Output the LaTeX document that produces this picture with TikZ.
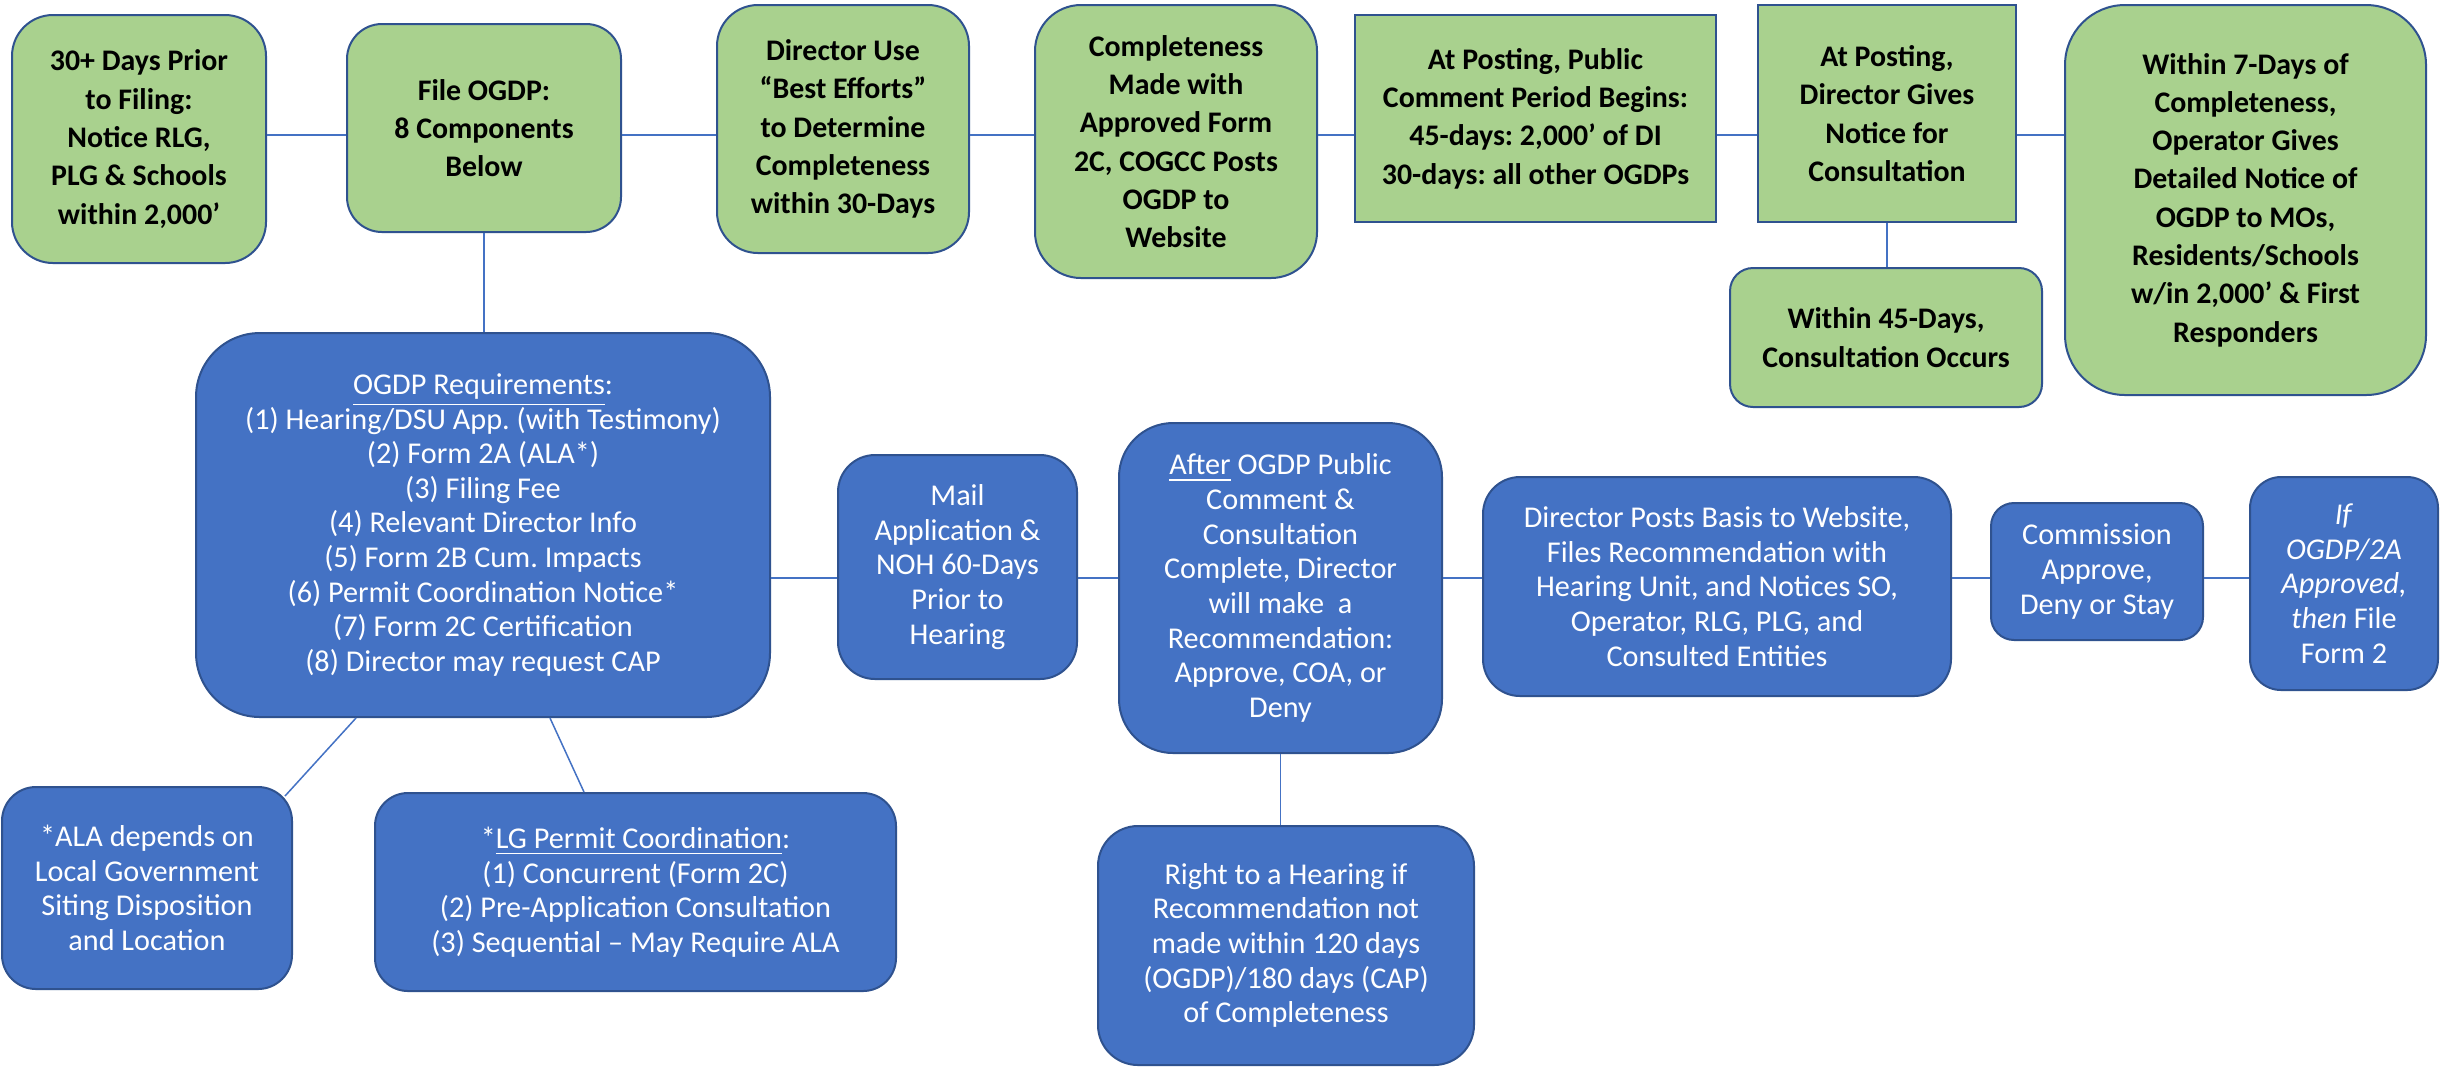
\documentclass[tikz,border=0pt]{standalone}
\usepackage{fontspec}
\setmainfont{Carlito}
\definecolor{gfill}{HTML}{A9D18E}
\definecolor{bfill}{HTML}{4472C4}
\definecolor{bdr}{HTML}{2F528F}
\definecolor{lnk}{HTML}{4472C4}
\tikzset{
  gbox/.style={draw=bdr, fill=gfill, line width=0.2mm, align=center, inner sep=0pt,
    font=\fontsize{8.5}{10.9}\selectfont\bfseries, text=black},
  bbox/.style={draw=bdr, fill=bfill, line width=0.2mm, align=center, inner sep=0pt,
    font=\fontsize{8.6}{9.85}\selectfont, text=white},
  link/.style={draw=lnk, line width=0.15mm}
}
\frenchspacing
\begin{document}
\frenchspacing
\begin{tikzpicture}[x=0.1mm,y=-0.1mm]
\useasboundingbox (0,0) rectangle (2440,1066);
\fill[white] (0,0) rectangle (2440,1066);
% green boxes
\node[gbox, minimum width=25.4mm, minimum height=24.8mm, rounded corners=4.1mm] (b1) at (139,139)
  {30+ Days Prior\\to Filing:\\Notice RLG,\\PLG \& Schools\\within 2,000’};
\node[gbox, minimum width=27.4mm, minimum height=20.8mm, rounded corners=3.5mm] (b2) at (484,128)
  {File OGDP:\\8 Components\\Below};
\node[gbox, minimum width=25.2mm, minimum height=24.8mm, rounded corners=4.1mm] (b3) at (843,129)
  {Director Use\\“Best Efforts”\\to Determine\\Completeness\\within 30-Days};
\node[gbox, minimum width=28.2mm, minimum height=27.3mm, rounded corners=4.6mm] (b4) at (1176,141.5)
  {Completeness\\Made with\\Approved Form\\2C, COGCC Posts\\OGDP to\\Website};
\node[gbox, minimum width=36.1mm, minimum height=20.7mm] (b5) at (1535.5,118.5)
  {At Posting, Public\\Comment Period Begins:\\45-days: 2,000’ of DI\\30-days: all other OGDPs};
\node[gbox, minimum width=25.8mm, minimum height=21.7mm] (b6) at (1887,113.5)
  {At Posting,\\Director Gives\\Notice for\\Consultation};
\node[gbox, minimum width=31.2mm, minimum height=13.9mm, rounded corners=2.3mm] (b7) at (1886,337.5)
  {Within 45-Days,\\Consultation Occurs};
\node[gbox, minimum width=36.1mm, minimum height=39mm, rounded corners=6mm] (b8) at (2245.5,200)
  {Within 7-Days of\\Completeness,\\Operator Gives\\Detailed Notice of\\OGDP to MOs,\\Residents/Schools\\w/in 2,000’ \& First\\Responders};
% blue boxes
\node[bbox, minimum width=57.4mm, minimum height=38.4mm, rounded corners=6.4mm] (A) at (483,525)
  {\underline{OGDP Requirements}:\\(1) Hearing/DSU App. (with Testimony)\\(2) Form 2A (ALA*)\\(3) Filing Fee\\(4) Relevant Director Info\\(5) Form 2B Cum. Impacts\\(6) Permit Coordination Notice*\\(7) Form 2C Certification\\(8) Director may request CAP};
\node[bbox, minimum width=23.9mm, minimum height=22.4mm, rounded corners=3.7mm] (B) at (957.5,567)
  {Mail\\Application \&\\NOH 60-Days\\Prior to\\Hearing};
\node[bbox, minimum width=32.3mm, minimum height=33mm, rounded corners=5.4mm] (C) at (1280.5,588)
  {\underline{After} OGDP Public\\Comment \&\\Consultation\\Complete, Director\\will make\ \ a\\Recommendation:\\Approve, COA, or\\Deny};
\node[bbox, minimum width=46.8mm, minimum height=21.9mm, rounded corners=3.7mm] (D) at (1717,586.5)
  {Director Posts Basis to Website,\\Files Recommendation with\\Hearing Unit, and Notices SO,\\Operator, RLG, PLG, and\\Consulted Entities};
\node[bbox, minimum width=21.2mm, minimum height=13.7mm, rounded corners=2.3mm] (E) at (2097,571.5)
  {Commission\\Approve,\\Deny or Stay};
\node[bbox, minimum width=18.8mm, minimum height=21.3mm, rounded corners=3.1mm] (F) at (2344,583.5)
  {\textit{If}\\\textit{OGDP/2A}\\\textit{Approved,}\\\textit{then} File\\Form 2};
\node[bbox, minimum width=37.6mm, minimum height=23.9mm, rounded corners=4mm] (G) at (1286,945.5)
  {Right to a Hearing if\\Recommendation not\\made within 120 days\\(OGDP)/180 days (CAP)\\of Completeness};
\node[bbox, minimum width=29mm, minimum height=20.2mm, rounded corners=3.4mm] (H) at (147,888)
  {*ALA depends on\\Local Government\\Siting Disposition\\and Location};
\node[bbox, minimum width=52.1mm, minimum height=19.8mm, rounded corners=3.3mm] (I) at (635.5,892)
  {*\underline{LG Permit Coordination}:\\(1) Concurrent (Form 2C)\\(2) Pre-Application Consultation\\(3) Sequential – May Require ALA};
% helper coordinates
\coordinate (r1) at (0,135);
\coordinate (r2) at (0,578);
\coordinate (ah1) at (356,0);
\coordinate (ah2) at (285,796);
\coordinate (ai1) at (550,0);
\coordinate (ai2) at (584,0);
% connectors
\draw[link] (b1.east |- r1) -- (b2.west |- r1);
\draw[link] (b2.east |- r1) -- (b3.west |- r1);
\draw[link] (b3.east |- r1) -- (b4.west |- r1);
\draw[link] (b4.east |- r1) -- (b5.west |- r1);
\draw[link] (b5.east |- r1) -- (b6.west |- r1);
\draw[link] (b6.east |- r1) -- (b8.west |- r1);
\draw[link] (b6.south) -- (b6.south |- b7.north);
\draw[link] (b2.south) -- (b2.south |- A.north);
\draw[link] (A.east |- r2) -- (B.west |- r2);
\draw[link] (B.east |- r2) -- (C.west |- r2);
\draw[link] (C.east |- r2) -- (D.west |- r2);
\draw[link] (D.east |- r2) -- (E.west |- r2);
\draw[link] (E.east |- r2) -- (F.west |- r2);
\draw[link] (C.south) -- (C.south |- G.north);
\draw[link] (A.south -| ah1) -- (ah2);
\draw[link] (A.south -| ai1) -- (I.north -| ai2);
\end{tikzpicture}
\end{document}
